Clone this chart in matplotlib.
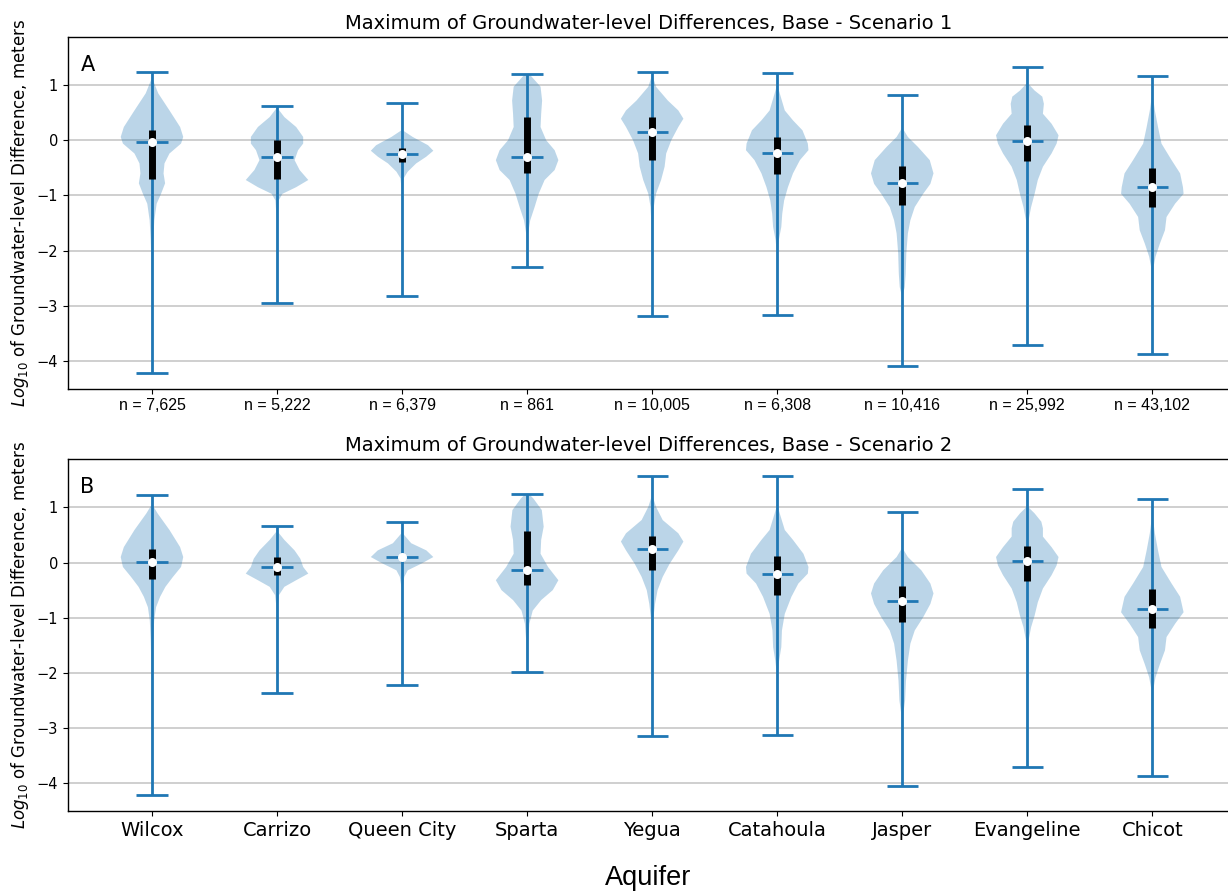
import matplotlib
matplotlib.use("Agg")
import matplotlib.pyplot as plt

aquifers = ["Wilcox", "Carrizo", "Queen City", "Sparta", "Yegua",
            "Catahoula", "Jasper", "Evangeline", "Chicot"]
n_labels = ["n = 7,625", "n = 5,222", "n = 6,379", "n = 861", "n = 10,005",
            "n = 6,308", "n = 10,416", "n = 25,992", "n = 43,102"]

# ---- Scenario 1 summary values (log10 m) ----
s1_min = [-4.21, -2.94, -2.83, -2.29, -3.19, -3.16, -4.08, -3.71, -3.87]
s1_q1 = [-0.71, -0.71, -0.39, -0.60, -0.35, -0.62, -1.18, -0.37, -1.21]
s1_med = [-0.04, -0.31, -0.25, -0.30, 0.15, -0.23, -0.77, -0.01, -0.85]
s1_q3 = [0.19, 0.00, -0.14, 0.42, 0.43, 0.06, -0.46, 0.28, -0.50]
s1_max = [1.23, 0.62, 0.67, 1.20, 1.23, 1.21, 0.82, 1.33, 1.16]

# density profiles (level, relative width)
s1_dens_y = [
    [1.23, 1.09, 0.85, 0.54, 0.24, 0.06, -0.06, -0.24, -0.42, -0.60, -0.78, -0.97, -1.15, -1.45, -1.81, -2.20, -4.21],
    [0.62, 0.57, 0.42, 0.24, 0.06, -0.06, -0.18, -0.36, -0.54, -0.72, -0.85, -0.97, -1.09, -1.40, -2.94],
    [0.67, 0.18, 0.06, -0.09, -0.19, -0.30, -0.42, -0.57, -0.69, -0.90, -2.83],
    [1.20, 1.18, 0.97, 0.72, 0.48, 0.24, 0.00, -0.18, -0.36, -0.54, -0.72, -0.97, -1.21, -1.45, -1.69, -2.29],
    [1.23, 1.15, 0.97, 0.72, 0.54, 0.39, 0.24, 0.00, -0.24, -0.48, -0.72, -0.97, -1.21, -1.57, -3.19],
    [1.21, 0.97, 0.85, 0.54, 0.36, 0.18, -0.06, -0.18, -0.36, -0.60, -0.85, -1.09, -1.33, -1.57, -1.81, -2.00, -3.16],
    [0.82, 0.21, 0.06, -0.12, -0.36, -0.60, -0.79, -0.97, -1.21, -1.45, -1.69, -2.05, -2.42, -2.66, -2.80, -4.08],
    [1.33, 1.03, 0.90, 0.79, 0.66, 0.48, 0.30, 0.09, -0.06, -0.24, -0.48, -0.72, -0.97, -1.21, -1.45, -3.71],
    [1.16, 0.78, 0.54, 0.24, -0.06, -0.36, -0.60, -0.85, -0.97, -1.15, -1.39, -1.63, -1.87, -2.11, -2.29, -3.87],
]
s1_dens_w = [
    [0.005, 0.03, 0.20, 0.56, 0.90, 1.00, 0.93, 0.56, 0.40, 0.37, 0.42, 0.29, 0.15, 0.075, 0.04, 0.02, 0.005],
    [0.005, 0.03, 0.23, 0.60, 0.82, 0.82, 0.66, 0.55, 0.71, 0.98, 0.60, 0.17, 0.05, 0.015, 0.005],
    [0.005, 0.02, 0.34, 0.83, 1.00, 0.77, 0.45, 0.18, 0.05, 0.015, 0.005],
    [0.005, 0.10, 0.43, 0.48, 0.45, 0.43, 0.61, 0.88, 1.00, 0.88, 0.56, 0.37, 0.24, 0.10, 0.03, 0.005],
    [0.005, 0.02, 0.12, 0.49, 0.82, 0.98, 0.82, 0.60, 0.44, 0.39, 0.28, 0.12, 0.05, 0.02, 0.005],
    [0.005, 0.02, 0.08, 0.24, 0.50, 0.80, 0.97, 0.99, 0.72, 0.50, 0.34, 0.22, 0.16, 0.13, 0.05, 0.02, 0.005],
    [0.005, 0.02, 0.18, 0.50, 0.88, 1.00, 0.90, 0.67, 0.40, 0.26, 0.18, 0.13, 0.11, 0.08, 0.02, 0.005],
    [0.005, 0.02, 0.23, 0.47, 0.52, 0.49, 0.76, 0.98, 0.92, 0.76, 0.49, 0.33, 0.23, 0.12, 0.04, 0.005],
    [0.005, 0.02, 0.08, 0.18, 0.29, 0.61, 0.88, 0.97, 0.99, 0.72, 0.45, 0.40, 0.24, 0.10, 0.04, 0.005],
]

# ---- Scenario 2 summary values (log10 m) ----
s2_min = [-4.21, -2.36, -2.21, -1.98, -3.14, -3.13, -4.04, -3.71, -3.87]
s2_q1 = [-0.29, -0.23, 0.06, -0.40, -0.13, -0.59, -1.08, -0.33, -1.18]
s2_med = [0.01, -0.08, 0.10, -0.13, 0.25, -0.21, -0.70, 0.03, -0.84]
s2_q3 = [0.24, 0.10, 0.14, 0.58, 0.48, 0.12, -0.42, 0.30, -0.48]
s2_max = [1.23, 0.67, 0.73, 1.25, 1.57, 1.57, 0.92, 1.33, 1.15]

s2_dens_y = [
    [1.23, 1.04, 0.89, 0.59, 0.28, 0.10, -0.08, -0.26, -0.44, -0.62, -0.81, -1.05, -1.41, -1.90, -4.21],
    [0.67, 0.56, 0.41, 0.22, 0.07, -0.08, -0.20, -0.32, -0.44, -0.59, -0.80, -2.36],
    [0.73, 0.53, 0.35, 0.22, 0.10, -0.02, -0.14, -0.26, -0.45, -2.21],
    [1.25, 1.23, 1.16, 0.95, 0.65, 0.41, 0.16, -0.08, -0.32, -0.50, -0.68, -0.87, -1.11, -1.41, -1.98],
    [1.57, 1.19, 1.01, 0.77, 0.53, 0.38, 0.22, -0.02, -0.26, -0.50, -0.75, -1.05, -3.14],
    [1.57, 1.01, 0.89, 0.59, 0.41, 0.16, -0.08, -0.20, -0.38, -0.62, -0.93, -1.23, -1.53, -1.78, -1.98, -3.13],
    [0.92, 0.25, 0.10, -0.14, -0.38, -0.56, -0.75, -0.99, -1.23, -1.47, -1.78, -2.14, -2.50, -2.75, -4.04],
    [1.33, 1.01, 0.89, 0.74, 0.62, 0.47, 0.28, 0.10, -0.05, -0.23, -0.47, -0.72, -0.96, -1.17, -1.41, -3.71],
    [1.15, 0.80, 0.53, 0.22, -0.08, -0.38, -0.62, -0.90, -1.11, -1.35, -1.59, -1.84, -2.08, -2.30, -3.87],
]
s2_dens_w = [
    [0.005, 0.02, 0.18, 0.56, 0.90, 1.00, 0.93, 0.67, 0.43, 0.26, 0.13, 0.07, 0.04, 0.02, 0.005],
    [0.005, 0.02, 0.23, 0.55, 0.73, 0.82, 0.98, 0.60, 0.23, 0.06, 0.02, 0.005],
    [0.005, 0.02, 0.29, 0.77, 0.99, 0.61, 0.18, 0.07, 0.02, 0.005],
    [0.005, 0.08, 0.20, 0.47, 0.53, 0.45, 0.43, 0.67, 1.00, 0.82, 0.45, 0.18, 0.07, 0.03, 0.005],
    [0.005, 0.02, 0.12, 0.33, 0.82, 0.98, 0.82, 0.55, 0.33, 0.17, 0.09, 0.03, 0.005],
    [0.005, 0.02, 0.08, 0.24, 0.50, 0.83, 0.99, 0.97, 0.67, 0.45, 0.24, 0.15, 0.13, 0.06, 0.02, 0.005],
    [0.005, 0.02, 0.18, 0.61, 0.90, 1.00, 0.90, 0.67, 0.40, 0.26, 0.18, 0.12, 0.09, 0.03, 0.005],
    [0.005, 0.02, 0.23, 0.44, 0.49, 0.49, 0.76, 0.98, 0.92, 0.76, 0.49, 0.33, 0.23, 0.12, 0.04, 0.005],
    [0.005, 0.02, 0.08, 0.18, 0.29, 0.61, 0.88, 0.99, 0.72, 0.45, 0.40, 0.24, 0.10, 0.03, 0.005],
]

titles = ["Maximum of Groundwater-level Differences, Base - Scenario 1",
          "Maximum of Groundwater-level Differences, Base - Scenario 2"]
panel_letters = ["A", "B"]

BLUE = "#1f77b4"
W, H = 1228, 894
fig = plt.figure(figsize=(W / 100, H / 100), dpi=100)

ax_left = 67.7 / W
ax_w = 1.0 - ax_left + 0.0005
ax_h = (388.7 - 37) / H
axes = [fig.add_axes([ax_left, 1 - 388.7 / H, ax_w, ax_h]),
        fig.add_axes([ax_left, 1 - 811 / H, ax_w, ax_h])]

panels = [
    (s1_min, s1_q1, s1_med, s1_q3, s1_max, s1_dens_y, s1_dens_w),
    (s2_min, s2_q1, s2_med, s2_q3, s2_max, s2_dens_y, s2_dens_w),
]

positions = list(range(1, len(aquifers) + 1))

for k, (ax, pdata) in enumerate(zip(axes, panels)):
    mins, q1s, meds, q3s, maxs, dys, dws = pdata
    vpstats = []
    for i in range(len(aquifers)):
        vpstats.append(dict(coords=dys[i], vals=dws[i], mean=meds[i],
                            median=meds[i], min=mins[i], max=maxs[i]))
    parts = ax.violin(vpstats, positions=positions, widths=0.5,
                      showmeans=False, showextrema=True, showmedians=True)
    for b in parts["bodies"]:
        b.set_facecolor(BLUE)
        b.set_edgecolor("none")
        b.set_alpha(0.3)
    for key in ("cmins", "cmaxes", "cbars", "cmedians"):
        parts[key].set_color(BLUE)
        parts[key].set_linewidth(2.0)
    ax.vlines(positions, q1s, q3s, color="k", linestyle="-", lw=5, zorder=3)
    ax.scatter(positions, meds, marker="o", color="white", s=30, zorder=4)

    ax.set_xlim(0.326, 9.61)
    ax.set_ylim(-4.5, 1.87)
    ax.set_yticks([-4, -3, -2, -1, 0, 1])
    ax.yaxis.grid(True, color="#cccccc", linewidth=1.3)
    ax.set_axisbelow(True)
    ax.set_xticks(positions)
    ax.tick_params(axis="y", labelsize=10.5)
    ax.set_title(titles[k], fontsize=14, pad=6)
    ax.text(0.011, 0.95, panel_letters[k], transform=ax.transAxes,
            fontsize=15, va="top", ha="left")
    ax.set_ylabel(r"$Log_{10}$ of Groundwater-level Difference, meters",
                  fontsize=12)
    for sp in ax.spines.values():
        sp.set_linewidth(1.0)

axes[0].set_xticklabels(n_labels, fontsize=11.5, family="Liberation Sans")
axes[1].set_xticklabels(aquifers, fontsize=14)
fig.text(ax_left + (1 - ax_left) / 2, 1 - 878 / H, "Aquifer", ha="center",
         va="center", fontsize=19.5, family="Liberation Sans")

fig.savefig("out.png", dpi=100)
